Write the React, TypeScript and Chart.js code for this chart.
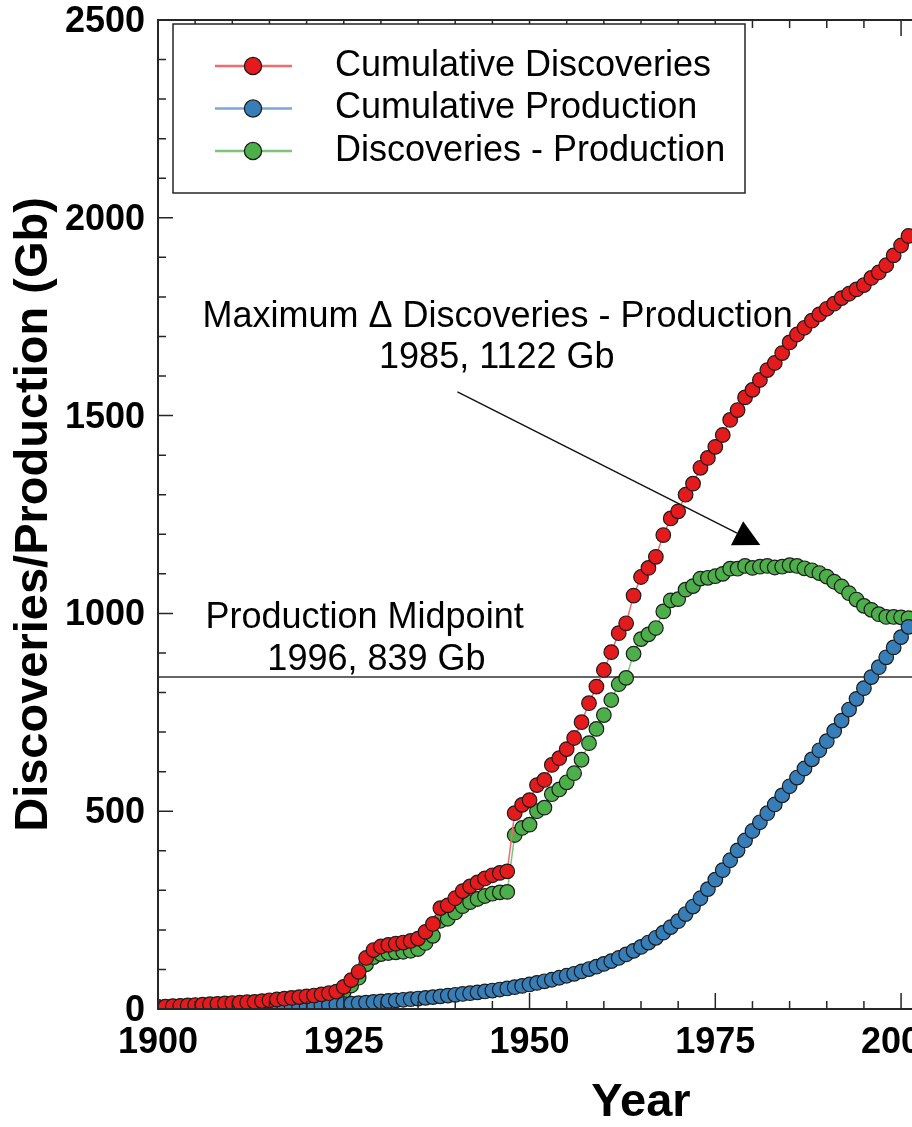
import React, { useEffect, useRef } from "react";
import { Chart, registerables } from "chart.js";

Chart.register(...registerables);

// ---- Data (Gb) ----------------------------------------------------------
const YEARS = [
  1900, 1901, 1902, 1903, 1904, 1905, 1906, 1907, 1908, 1909,
  1910, 1911, 1912, 1913, 1914, 1915, 1916, 1917, 1918, 1919,
  1920, 1921, 1922, 1923, 1924, 1925, 1926, 1927, 1928, 1929,
  1930, 1931, 1932, 1933, 1934, 1935, 1936, 1937, 1938, 1939,
  1940, 1941, 1942, 1943, 1944, 1945, 1946, 1947, 1948, 1949,
  1950, 1951, 1952, 1953, 1954, 1955, 1956, 1957, 1958, 1959,
  1960, 1961, 1962, 1963, 1964, 1965, 1966, 1967, 1968, 1969,
  1970, 1971, 1972, 1973, 1974, 1975, 1976, 1977, 1978, 1979,
  1980, 1981, 1982, 1983, 1984, 1985, 1986, 1987, 1988, 1989,
  1990, 1991, 1992, 1993, 1994, 1995, 1996, 1997, 1998, 1999,
  2000, 2001,
];

const CUMULATIVE_DISCOVERIES = [
  5, 6, 7, 8, 9, 10, 11, 12, 13, 14,
  15, 16, 17, 18, 20, 22, 24, 26, 28, 30,
  32, 34, 37, 40, 44, 56, 73, 94, 129, 149,
  158, 162, 165, 168, 172, 178, 195, 215, 255, 262,
  280, 298, 310, 320, 330, 338, 344, 348, 495, 516,
  528, 566, 579, 617, 634, 657, 685, 725, 773, 815,
  857, 902, 950, 975, 1045, 1092, 1115, 1143, 1198, 1240,
  1258, 1300, 1328, 1368, 1393, 1421, 1451, 1489, 1514, 1546,
  1565, 1590, 1615, 1633, 1658, 1685, 1705, 1722, 1740, 1756,
  1770, 1783, 1797, 1808, 1819, 1830, 1848, 1862, 1880, 1905,
  1930, 1954,
];

const CUMULATIVE_PRODUCTION = [
  0.6, 0.8, 1.0, 1.2, 1.4, 1.6, 1.8, 2.1, 2.4, 2.7,
  3.0, 3.3, 3.7, 4.1, 4.5, 4.9, 5.4, 5.9, 6.4, 7.0,
  7.7, 8.5, 9.4, 10.4, 11.4, 12.5, 13.6, 14.9, 16.2, 17.7,
  19.1, 20.5, 21.8, 23.3, 24.8, 26.4, 28.1, 30.0, 31.9, 33.9,
  35.9, 38.0, 39.9, 42.0, 44.4, 46.6, 49.2, 52.0, 55.2, 58.4,
  62, 66, 70, 74, 79, 84, 89, 95, 101, 107,
  114, 121, 129, 138, 147, 157, 168, 180, 193, 207,
  222, 240, 259, 280, 303, 327, 351, 376, 401, 426,
  450, 472, 495, 517, 540, 563, 585, 608, 631, 654,
  677, 703, 729, 757, 784, 811, 839, 864, 889, 914,
  940, 966,
];

const DISCOVERIES_MINUS_PRODUCTION = [
  4.4, 5.2, 6.0, 6.8, 7.6, 8.4, 9.2, 9.9, 10.6, 11.3,
  12.0, 12.7, 13.3, 13.9, 15.5, 17.1, 18.6, 20.1, 21.6, 23.0,
  24.3, 25.5, 27.6, 29.6, 32.6, 43.5, 59.4, 79.1, 112.8, 131.3,
  138.9, 141.5, 143.2, 144.7, 147.2, 151.6, 166.9, 185.0, 223.1, 228.1,
  244.1, 260.0, 270.1, 278.0, 285.6, 291.4, 294.8, 296.0, 439.8, 457.6,
  466, 500, 509, 543, 555, 573, 596, 630, 672, 708,
  743, 781, 821, 837, 898, 935, 947, 963, 1005, 1033,
  1036, 1060, 1069, 1088, 1090, 1094, 1100, 1113, 1113, 1120,
  1115, 1118, 1120, 1116, 1118, 1122, 1120, 1114, 1109, 1102,
  1093, 1080, 1068, 1051, 1035, 1019, 1009, 998, 991, 991,
  990, 988,
];

const SERIES_LABELS = [
  "Cumulative Discoveries",
  "Cumulative Production",
  "Discoveries - Production",
];

// Axis ranges and tick steps
const X_MIN = 1900;
const X_MAX = 2030;
const X_MAJOR = 25;
const X_MINOR = 5;
const Y_MIN = 0;
const Y_MAX = 2500;
const Y_MAJOR = 500;
const Y_MINOR = 100;

// Annotated values
const PEAK_YEAR = 1985;
const PEAK_GAP_GB = 1122;
const MIDPOINT_YEAR = 1996;
const MIDPOINT_GB = 839;

// ---- Styling ------------------------------------------------------------
const FONT = '"Liberation Sans", Arial, Helvetica, sans-serif';
const INK = "#000000";
const FRAME = "#262626";

const SERIES_STYLE = [
  { fill: "#e41a1c", line: "#ef6b6c" },
  { fill: "#377eb8", line: "#7aa8d4" },
  { fill: "#4daf4a", line: "#7cc47a" },
];
const SERIES_VALUES = [
  CUMULATIVE_DISCOVERIES,
  CUMULATIVE_PRODUCTION,
  DISCOVERIES_MINUS_PRODUCTION,
];

const POINT_RADIUS = 7.3;
const POINT_BORDER = "#1c1c1c";

// Annotation anchors in data units (year, Gb)
const ARROW_FROM = [1940.3, 1560];
const ARROW_TO = [1981.05, 1173];
const NOTES = [
  { text: "Maximum \u0394 Discoveries - Production", at: [1945.7, 1749] },
  { text: `${PEAK_YEAR}, ${PEAK_GAP_GB} Gb`, at: [1945.6, 1646] },
  { text: "Production Midpoint", at: [1927.8, 988] },
  { text: `${MIDPOINT_YEAR}, ${MIDPOINT_GB} Gb`, at: [1929.4, 882] },
];

// Reference line, arrow and labels, painted beneath the markers
const annotationPlugin = {
  id: "notes",
  beforeDatasetsDraw(chart: any) {
    const { ctx, chartArea, scales } = chart;
    const { left, right } = chartArea;
    const xs = scales.x;
    const ys = scales.y;
    ctx.save();

    const yMid = ys.getPixelForValue(MIDPOINT_GB);
    ctx.strokeStyle = "#333333";
    ctx.lineWidth = 1.5;
    ctx.beginPath();
    ctx.moveTo(left, yMid);
    ctx.lineTo(right, yMid);
    ctx.stroke();

    const x0 = xs.getPixelForValue(ARROW_FROM[0]);
    const y0 = ys.getPixelForValue(ARROW_FROM[1]);
    const x1 = xs.getPixelForValue(ARROW_TO[0]);
    const y1 = ys.getPixelForValue(ARROW_TO[1]);
    const ang = Math.atan2(y1 - y0, x1 - x0);
    const headLen = 26;
    const headHalf = 13.5;
    const bx = x1 - headLen * Math.cos(ang);
    const by = y1 - headLen * Math.sin(ang);
    ctx.strokeStyle = "#111111";
    ctx.lineWidth = 1.4;
    ctx.beginPath();
    ctx.moveTo(x0, y0);
    ctx.lineTo(bx, by);
    ctx.stroke();
    ctx.fillStyle = "#000000";
    ctx.beginPath();
    ctx.moveTo(x1, y1);
    ctx.lineTo(bx - headHalf * Math.sin(ang), by + headHalf * Math.cos(ang));
    ctx.lineTo(bx + headHalf * Math.sin(ang), by - headHalf * Math.cos(ang));
    ctx.closePath();
    ctx.fill();

    ctx.font = `36px ${FONT}`;
    ctx.textAlign = "center";
    ctx.textBaseline = "middle";
    ctx.fillStyle = INK;
    for (const n of NOTES) {
      ctx.fillText(n.text, xs.getPixelForValue(n.at[0]), ys.getPixelForValue(n.at[1]));
    }
    ctx.restore();
  },
};

// Boxed frame with inward major/minor ticks on every side
const framePlugin = {
  id: "frame",
  afterDatasetsDraw(chart: any) {
    const { ctx, chartArea, scales } = chart;
    const { left, right, top, bottom } = chartArea;
    const xs = scales.x;
    const ys = scales.y;
    ctx.save();
    ctx.strokeStyle = FRAME;
    ctx.lineWidth = 1.5;
    ctx.beginPath();
    for (let v = Y_MIN; v <= Y_MAX; v += Y_MINOR) {
      const py = ys.getPixelForValue(v);
      const len = v % Y_MAJOR === 0 ? 15 : 8;
      ctx.moveTo(left, py);
      ctx.lineTo(left + len, py);
      ctx.moveTo(right, py);
      ctx.lineTo(right - len, py);
    }
    for (let v = X_MIN; v <= X_MAX; v += X_MINOR) {
      const px = xs.getPixelForValue(v);
      const len = (v - X_MIN) % X_MAJOR === 0 ? 16 : 8;
      ctx.moveTo(px, bottom);
      ctx.lineTo(px, bottom - len);
      ctx.moveTo(px, top);
      ctx.lineTo(px, top + len);
    }
    ctx.stroke();
    ctx.lineWidth = 2;
    ctx.strokeRect(left, top, right - left, bottom - top);
    ctx.restore();
  },
};

// Boxed legend in the upper-left corner of the plot
const legendPlugin = {
  id: "boxLegend",
  afterDraw(chart: any) {
    const { ctx, chartArea } = chart;
    const bx = chartArea.left + 15;
    const by = chartArea.top + 4;
    const bw = 572;
    const bh = 169;
    ctx.save();
    ctx.fillStyle = "#ffffff";
    ctx.fillRect(bx, by, bw, bh);
    ctx.strokeStyle = FRAME;
    ctx.lineWidth = 1.5;
    ctx.strokeRect(bx, by, bw, bh);

    ctx.font = `36px ${FONT}`;
    ctx.textAlign = "left";
    ctx.textBaseline = "middle";
    chart.data.datasets.forEach((ds: any, i: number) => {
      const ry = by + 42 + i * 42.5;
      ctx.strokeStyle = ds.borderColor;
      ctx.lineWidth = 2.5;
      ctx.beginPath();
      ctx.moveTo(bx + 42, ry);
      ctx.lineTo(bx + 119, ry);
      ctx.stroke();
      ctx.fillStyle = ds.pointBackgroundColor;
      ctx.strokeStyle = POINT_BORDER;
      ctx.lineWidth = 1.3;
      ctx.beginPath();
      ctx.arc(bx + 80, ry, 8.6, 0, Math.PI * 2);
      ctx.fill();
      ctx.stroke();
      ctx.fillStyle = INK;
      ctx.fillText(ds.label, bx + 162, ry);
    });
    ctx.restore();
  },
};

export default function App() {
  const canvasRef = useRef<HTMLCanvasElement | null>(null);

  useEffect(() => {
    const canvas = canvasRef.current;
    if (!canvas) return;

    const datasets = SERIES_LABELS.map((label, i) => ({
      label,
      data: YEARS.map((yr, k) => ({ x: yr, y: SERIES_VALUES[i][k] })),
      borderColor: SERIES_STYLE[i].line,
      backgroundColor: SERIES_STYLE[i].fill,
      borderWidth: 1.5,
      pointBackgroundColor: SERIES_STYLE[i].fill,
      pointBorderColor: POINT_BORDER,
      pointBorderWidth: 1.2,
      pointRadius: POINT_RADIUS,
      pointHoverRadius: POINT_RADIUS,
      tension: 0,
      fill: false,
      clip: 0,
    }));

    const tickFont = { family: FONT, size: 36, weight: "bold" as const };
    const titleFont = { family: FONT, size: 47, weight: "bold" as const };

    const chart = new Chart(canvas, {
      type: "line",
      data: { datasets },
      options: {
        responsive: false,
        animation: false,
        devicePixelRatio: 1,
        events: [],
        layout: { padding: { left: 0, right: 36, top: 20, bottom: 0 } },
        plugins: {
          legend: { display: false },
          tooltip: { enabled: false },
        },
        scales: {
          x: {
            type: "linear",
            min: X_MIN,
            max: X_MAX,
            afterFit: (s: any) => {
              s.height = 118;
              s.paddingLeft = 0;
              s.paddingRight = 0;
            },
            grid: { display: false, drawTicks: false },
            border: { display: false },
            ticks: {
              stepSize: X_MAJOR,
              includeBounds: false,
              autoSkip: false,
              maxRotation: 0,
              padding: 12,
              color: INK,
              font: tickFont,
              callback: (v: any) => String(v),
            },
            title: {
              display: true,
              text: "Year",
              color: INK,
              font: { ...titleFont, lineHeight: 1 },
              padding: 0,
            },
          },
          y: {
            type: "linear",
            min: Y_MIN,
            max: Y_MAX,
            afterFit: (s: any) => {
              s.width = 158;
              s.paddingTop = 0;
              s.paddingBottom = 0;
            },
            grid: { display: false, drawTicks: false },
            border: { display: false },
            ticks: {
              stepSize: Y_MAJOR,
              padding: 13,
              labelOffset: 2,
              color: INK,
              font: tickFont,
              callback: (v: any) => String(v),
            },
            title: {
              display: true,
              text: "Discoveries/Production (Gb)",
              color: INK,
              font: titleFont,
              padding: { top: 6, bottom: 0 },
            },
          },
        },
      },
      plugins: [annotationPlugin, framePlugin, legendPlugin],
    });

    return () => chart.destroy();
  }, []);

  return (
    <div
      style={{
        position: "absolute",
        left: 0,
        top: 0,
        width: 912,
        height: 1127,
        overflow: "hidden",
        background: "#ffffff",
      }}
    >
      <canvas
        ref={canvasRef}
        width={1160}
        height={1127}
        style={{ display: "block", width: 1160, height: 1127 }}
      />
    </div>
  );
}
